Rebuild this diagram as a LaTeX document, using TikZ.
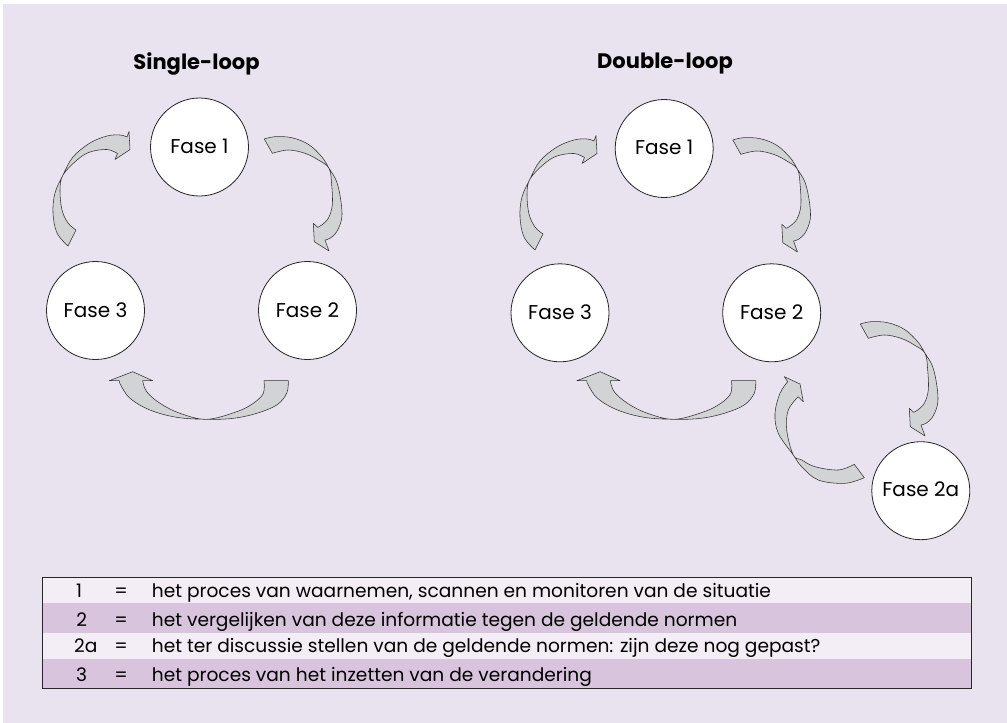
\documentclass[tikz,border=0pt]{standalone}
\usepackage{fontspec}
\setmainfont{Poppins}
\begin{document}
\begin{tikzpicture}[x=1pt,y=-1pt,
  phase/.style={circle,draw=black!85,line width=0.8pt,fill=white,minimum size=98pt,inner sep=0pt,font=\fontsize{20}{23}\selectfont},
  blk/.style={fill=arrowgray,draw=black!80,line width=0.55pt,line join=round},
  ttl/.style={font=\fontsize{21}{24}\selectfont\bfseries},
  tbl/.style={font=\fontsize{18.6}{22}\selectfont,anchor=base,inner sep=0pt}]
\definecolor{bg}{HTML}{E9E2EF}
\definecolor{rowlight}{HTML}{F3EEF5}
\definecolor{rowdark}{HTML}{D9C4DD}
\definecolor{arrowgray}{HTML}{D1D3D4}
\useasboundingbox (0,0) rectangle (1007,723);
\fill[white] (0,0) rectangle (1007,723);
\fill[bg] (3,4) rectangle (1007,723);
% arrows
\newcommand{\arrA}{\filldraw[blk] plot[smooth,tension=0.6] coordinates {(68,246) (57,233) (53,213) (55,193) (63,175) (73,157) (90,143) (107,136) (120,135) (127,137)} -- (129,131.5) -- (130,149.5) -- (115,159.5) -- plot[smooth,tension=0.6] coordinates {(117.5,153.5) (107,149.5) (90,152) (77,160) (63,175) (60,190) (62,210) (68,223) (76,230)} -- cycle;}
\newcommand{\arrC}{\filldraw[blk] plot[smooth,tension=0.6] coordinates {(264.3,139) (275,136.7) (291.7,137.7) (308.3,144.3) (321.7,156.7) (329,168.3) (336.7,181.7) (341,201.7) (341.7,218.3) (336.7,231.7) (330,238.3) (325,240)} -- (329,251) -- (314.3,241.7) -- (313.3,223.3) -- plot[smooth,tension=0.6] coordinates {(317.7,227.3) (321.7,225) (328.3,218.3) (332.3,205) (331.7,185) (329,168.3) (318.3,160) (305,153.3) (288.3,150) (272.3,153.3)} -- cycle;}
\newcommand{\arrB}{\filldraw[blk] plot[smooth,tension=0.6] coordinates {(288.3,380.7) (286.7,393.3) (276.7,405) (256.7,413.3) (233.3,418.3) (206.7,419.3) (176.7,417.3) (150,410) (130,398.3) (120.7,385) (119.3,380.7)} -- (109.3,380.7) -- (132.7,371.7) -- (152.7,380.7) -- plot[smooth,tension=0.6] coordinates {(142.7,380.7) (146.7,391.7) (160,403.3) (180,413.3) (206.7,419.3) (236.7,411.7) (253.3,403.3) (263.3,393.3) (264,380.7)} -- cycle;}
\begin{scope}
\arrA \arrC \arrB
\end{scope}
\begin{scope}[shift={(467,4)}] \arrA \end{scope}
\begin{scope}[shift={(468.5,1)}] \arrC \end{scope}
\begin{scope}[shift={(467.5,0)}] \arrB \end{scope}
\begin{scope}[shift={(596,185)}] \arrC \end{scope}
\filldraw[blk] plot[smooth,tension=0.6] coordinates {(864.3,477.7) (845,483.3) (818.3,480) (801.7,466.7) (793.3,455) (778.3,433.3) (775,413.3) (780,393.3) (787.7,381.7)} -- (784.3,376.7) -- (800,384) -- (803.3,401.7) -- plot[smooth,tension=0.6] coordinates {(798.3,396.7) (788.3,410) (786.7,430) (793.3,455) (801.7,460) (815,466.7) (838.3,470) (854.3,464.3)} -- cycle;
% titles
\node[ttl] (t1) at (196.5,64) {Single-loop};
\node[ttl] (t2) at (665,64) {Double-loop};
% circles
\node[phase] (s1) at (199.5,147) {\raisebox{2pt}{Fase 1}};
\node[phase] (s3) at (95.5,310.5) {\raisebox{1pt}{Fase 3}};
\node[phase] (s2) at (307.5,310.5) {\raisebox{1pt}{Fase 2}};
\node[phase] (d1) at (664.2,148.5) {\raisebox{2pt}{Fase 1}};
\node[phase] (d3) at (560,312.8) {\raisebox{1pt}{Fase 3}};
\node[phase] (d2) at (771.7,312.8) {\raisebox{1pt}{Fase 2}};
\node[phase] (d2a) at (920.8,490.7) {\raisebox{3pt}{Fase 2a}};
% table
\fill[rowlight] (42,577) rectangle (971,603);
\fill[rowdark] (42,603) rectangle (971,632.5);
\fill[rowlight] (42,632.5) rectangle (971,659);
\fill[rowdark] (42,659) rectangle (971,688);
\draw[black!85,line width=1pt] (42,577) rectangle (971,688);
\node[tbl] (n1) at (79,597.5) {1};
\node[tbl] (e1) at (121,597.5) {=};
\node[tbl,anchor=base west] (x1) at (151.7,597.5) {het proces van waarnemen, scannen en monitoren van de situatie};
\node[tbl] (n2) at (81.7,626.5) {2};
\node[tbl] (e2) at (121,626.5) {=};
\node[tbl,anchor=base west] (x2) at (151.7,626.5) {het vergelijken van deze informatie tegen de geldende normen};
\node[tbl] (n3) at (85.8,652.5) {2a};
\node[tbl] (e3) at (121,652.5) {=};
\node[tbl,anchor=base west] (x3) at (151.7,652.5) {het ter discussie stellen van de geldende normen: zijn deze nog gepast?};
\node[tbl] (n4) at (81.7,681.5) {3};
\node[tbl] (e4) at (121,681.5) {=};
\node[tbl,anchor=base west] (x4) at (151.7,681.5) {het proces van het inzetten van de verandering};
\end{tikzpicture}
\end{document}
